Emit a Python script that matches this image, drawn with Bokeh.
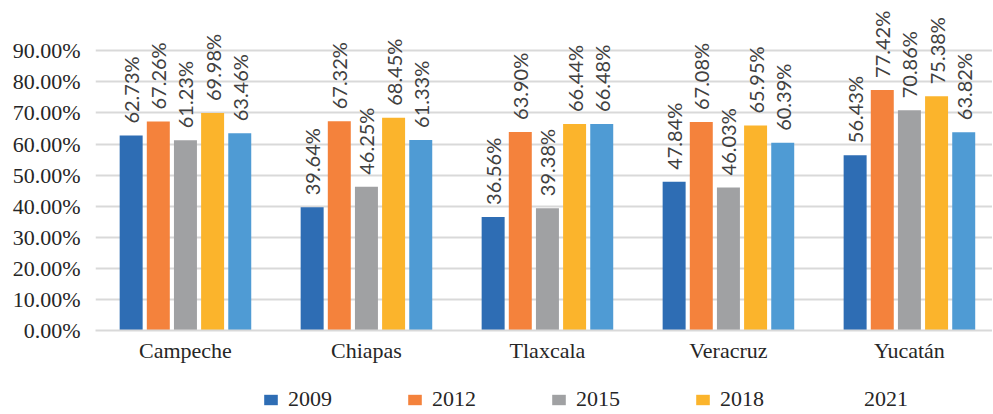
from bokeh.plotting import figure
from bokeh.layouts import column
from bokeh.models import (ColumnDataSource, FixedTicker, NumeralTickFormatter,
                          Legend, LegendItem, Range1d)
from bokeh.transform import dodge
from bokeh.core.properties import value
from bokeh.embed import file_html
from bokeh.resources import INLINE

states = ["Campeche", "Chiapas", "Tlaxcala", "Veracruz", "Yucatán"]
years = ["2009", "2012", "2015", "2018", "2021"]
v2009 = [62.73, 39.64, 36.56, 47.84, 56.43]
v2012 = [67.26, 67.32, 63.90, 67.08, 77.42]
v2015 = [61.23, 46.25, 39.38, 46.03, 70.86]
v2018 = [69.98, 68.45, 66.44, 65.95, 75.38]
v2021 = [63.46, 61.33, 66.48, 60.39, 63.82]
y_ticks = [0.0, 0.1, 0.2, 0.3, 0.4, 0.5, 0.6, 0.7, 0.8, 0.9]

series = [v2009, v2012, v2015, v2018, v2021]
colors = ["#2E6DB4", "#F4823C", "#A0A1A3", "#FBB42C", "#4F9BD4"]
offsets = [-0.30, -0.15, 0.0, 0.15, 0.30]
bar_w = 0.127
idx = list(range(len(states)))

p = figure(width=992, height=365, x_range=Range1d(-0.497, 4.459), y_range=Range1d(0, 1.062),
           output_backend="svg", toolbar_location=None,
           min_border_left=95, min_border_right=0, min_border_top=0, min_border_bottom=0)
p.outline_line_color = None

for yr, vals, col, off in zip(years, series, colors, offsets):
    src = ColumnDataSource(dict(i=idx, v=[x / 100 for x in vals],
                                lbl=["%.2f%%" % x for x in vals]))
    p.vbar(x=dodge("i", off), top="v", width=bar_w, source=src,
           fill_color=col, line_color=None)
    p.text(x=dodge("i", off), y="v", text="lbl", source=src,
           angle=1.5708, text_align="left", text_baseline="middle", y_offset=-12,
           text_font=value("Lato"), text_font_size="20px", text_color="#404040")

p.yaxis.ticker = FixedTicker(ticks=y_ticks)
p.yaxis.formatter = NumeralTickFormatter(format="0.00%")
p.yaxis.axis_line_color = None
p.yaxis.major_tick_line_color = None
p.yaxis.minor_tick_line_color = None
p.yaxis.major_label_text_font = "Liberation Serif"
p.yaxis.major_label_text_font_size = "22px"
p.yaxis.major_label_text_color = "#262626"
p.yaxis.major_label_standoff = 9

p.xaxis.ticker = FixedTicker(ticks=idx)
p.xaxis.major_label_overrides = {i: s for i, s in zip(idx, states)}
p.xaxis.axis_line_color = "#D9D9D9"
p.xaxis.axis_line_width = 2
p.xaxis.major_tick_line_color = None
p.xaxis.minor_tick_line_color = None
p.xaxis.major_label_text_font = "Liberation Serif"
p.xaxis.major_label_text_font_size = "22px"
p.xaxis.major_label_text_color = "#262626"
p.xaxis.major_label_standoff = 1

p.xgrid.grid_line_color = None
p.ygrid.grid_line_color = "#D9D9D9"
p.ygrid.grid_line_width = 2
p.ygrid.ticker = FixedTicker(ticks=y_ticks)

# legend strip below the chart
lg = figure(width=992, height=48, x_range=Range1d(0, 1), y_range=Range1d(0, 1),
            output_backend="svg", toolbar_location=None,
            x_axis_location=None, y_axis_location=None,
            min_border_left=0, min_border_right=0, min_border_top=0, min_border_bottom=0)
lg.grid.visible = False
lg.outline_line_color = None
items = []
for yr, col in zip(years, colors):
    alpha = 0 if yr == "2021" else 1
    r = lg.quad(left=[-3], right=[-2], bottom=[-3], top=[-2], fill_color=col,
                line_color=None, fill_alpha=alpha)
    items.append(LegendItem(label=yr, renderers=[r]))
legend = Legend(items=items, orientation="horizontal", location=(167, 1),
                glyph_width=17, glyph_height=13, label_standoff=9, spacing=74,
                label_text_font="Liberation Serif", label_text_font_size="22px",
                label_text_color="#262626", border_line_color=None, padding=0,
                margin=0, background_fill_alpha=0)
lg.add_layout(legend)

open("out.html", "w").write(file_html(column(p, lg, spacing=0), INLINE))
